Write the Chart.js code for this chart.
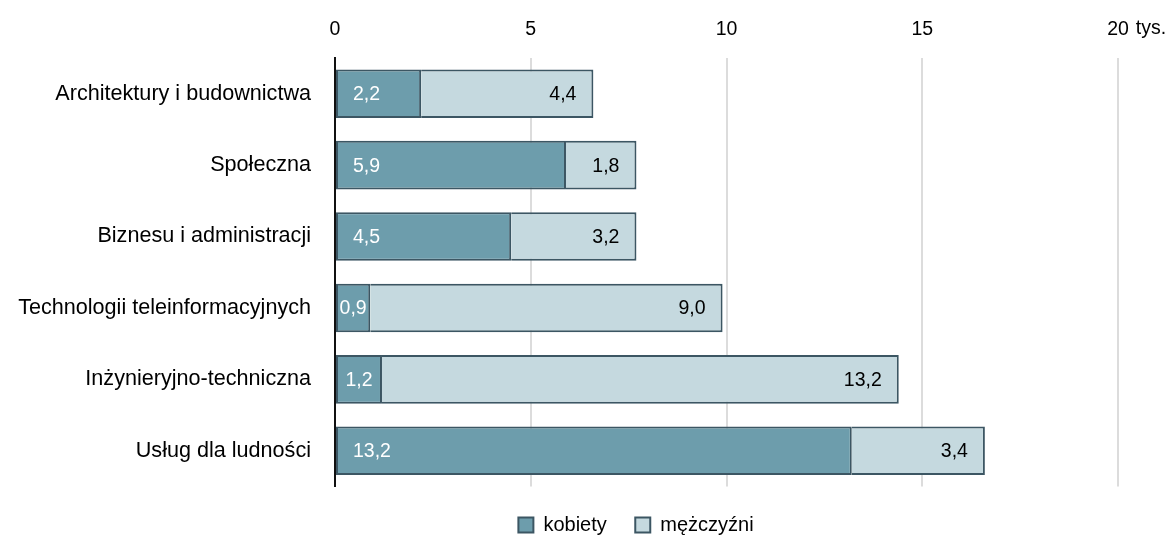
<!DOCTYPE html>
<html>
<head>
<meta charset="utf-8">
<script src="https://cdn.jsdelivr.net/npm/chart.js@4"></script>
<style>
  html, body { margin: 0; padding: 0; background: #fff; }
  #wrap { width: 1169px; height: 542px; }
</style>
</head>
<body>
<div id="wrap"><canvas id="wykres"></canvas></div>
<script>
// dane
const dziedziny = ['Architektury i budownictwa', 'Społeczna', 'Biznesu i administracji',
  'Technologii teleinformacyjnych', 'Inżynieryjno-techniczna', 'Usług dla ludności']
const kobiety = [2.2, 5.9, 4.5, 0.9, 1.2, 13.2]
const mezczyzni = [4.4, 1.8, 3.2, 9.0, 13.2, 3.4]
const podzialki = [0, 5, 10, 15, 20]
const jednostka = 'tys.'

const czcionka = "'Liberation Sans', Arial, sans-serif"

function formatuj(v) {
  return v.toFixed(1).replace('.', ',')
}

// etykiety wartosci na slupkach + jednostka osi + przesuniecie legendy
const etykiety = {
  id: 'etykiety',
  afterLayout(chart) {
    // legenda w oryginale stoi troche na prawo od srodka
    chart.legend.left += 77
    chart.legend.right += 77
  },
  afterDatasetsDraw(chart) {
    const ctx = chart.ctx
    ctx.save()
    ctx.font = '19.5px ' + czcionka
    ctx.textBaseline = 'middle'
    chart.data.datasets.forEach((ds, i) => {
      const meta = chart.getDatasetMeta(i)
      meta.data.forEach((bar, j) => {
        const tekst = formatuj(ds.data[j])
        const w = ctx.measureText(tekst).width
        if (i === 0) {
          ctx.fillStyle = '#ffffff'
          ctx.textAlign = 'left'
          const srodek = (bar.base + bar.x) / 2
          ctx.fillText(tekst, Math.min(bar.base + 17, srodek - w / 2), bar.y + 1)
        } else {
          ctx.fillStyle = '#000000'
          ctx.textAlign = 'right'
          ctx.fillText(tekst, bar.x - 17, bar.y + 1)
        }
      })
    })
    ctx.restore()
  },
  afterDraw(chart) {
    const ctx = chart.ctx
    const x = chart.scales.x
    ctx.save()
    ctx.font = '19.5px ' + czcionka
    ctx.fillStyle = '#000'
    ctx.textAlign = 'left'
    ctx.textBaseline = 'middle'
    const ost = podzialki[podzialki.length - 1]
    const w = ctx.measureText(String(ost)).width
    ctx.fillText(jednostka, x.getPixelForValue(ost) + w / 2 + 7, 29)
    ctx.restore()
  }
}

const wykres = new Chart(document.getElementById('wykres'), {
  type: 'bar',
  data: {
    labels: dziedziny,
    datasets: [{
      label: 'kobiety',
      data: kobiety,
      backgroundColor: '#6d9dac',
      borderColor: '#3c5663',
      borderWidth: 2,
      borderSkipped: false,
      barPercentage: 0.68,
      categoryPercentage: 1
    }, {
      label: 'mężczyźni',
      data: mezczyzni,
      backgroundColor: '#c5d9df',
      borderColor: '#3c5663',
      borderWidth: 2,
      borderSkipped: 'start',
      barPercentage: 0.68,
      categoryPercentage: 1
    }]
  },
  options: {
    indexAxis: 'y',
    responsive: true,
    maintainAspectRatio: false,
    animation: false,
    layout: { padding: { left: 0, right: 51, top: 0, bottom: -3 } },
    scales: {
      x: {
        position: 'top',
        stacked: true,
        min: 0,
        max: 20,
        afterBuildTicks(scale) {
          scale.ticks = podzialki.map(v => ({ value: v }))
        },
        afterFit(scale) { scale.height = 58 },
        ticks: {
          color: '#000',
          padding: 17,
          font: { family: czcionka, size: 19.5 },
          callback: v => String(v)
        },
        grid: {
          drawTicks: false,
          lineWidth: 2,
          color: c => c.tick && c.tick.value === 0 ? 'rgba(0,0,0,0)' : '#dcdcdc'
        },
        border: { display: false }
      },
      y: {
        stacked: true,
        afterFit(scale) { scale.width = 335 },
        ticks: {
          color: '#000',
          padding: 24,
          font: { family: czcionka, size: 21.6 }
        },
        grid: { display: false, drawTicks: false },
        border: { display: true, color: '#111', width: 2 }
      }
    },
    plugins: {
      legend: {
        position: 'bottom',
        labels: {
          color: '#000',
          boxWidth: 15,
          boxHeight: 15,
          padding: 28.5,
          font: { family: czcionka, size: 20 }
        }
      },
      tooltip: { enabled: false }
    }
  },
  plugins: [etykiety]
})
</script>
</body>
</html>
